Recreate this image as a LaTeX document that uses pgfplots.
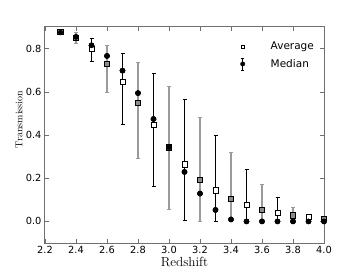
\documentclass[border=0pt]{standalone}
\usepackage{fontspec}
\setsansfont{DejaVu Sans}
\usepackage{pgfplots}
\pgfplotsset{compat=1.18}
\definecolor{axgray}{HTML}{707070}
\definecolor{bargray}{HTML}{9A9A9A}
\definecolor{sqgray}{HTML}{8C8C8C}
\begin{document}
\begin{tikzpicture}
\begin{axis}[
  scale only axis, width=279pt, height=216pt,
  xmin=2.2, xmax=4.0, ymin=-0.1, ymax=0.9,
  xtick={2.2,2.4,...,4.01}, ytick={0,0.2,0.4,0.6,0.8},
  axis line style={axgray, line width=1pt},
  tick style={axgray, line width=0.6pt}, tick align=inside,
  major tick length=4pt,
  xticklabel style={/pgf/number format/.cd, fixed, fixed zerofill, precision=1},
  yticklabel style={/pgf/number format/.cd, fixed, fixed zerofill, precision=1},
  /pgf/number format/assume math mode=true,
  tick label style={font=\sffamily\fontsize{9.8}{11}\selectfont, black},
  xlabel={Redshift}, ylabel={Transmission},
  xlabel style={font=\fontsize{13.2}{15}\selectfont, at={(axis description cs:0.5,-0.088)}, anchor=center},
  ylabel style={font=\fontsize{10}{12}\selectfont, at={(axis description cs:-0.093,0.572)}, anchor=center},
  clip=true,
  legend style={draw=none, fill=none, at={(0.975,0.945)}, anchor=north east,
    font=\sffamily\fontsize{10.5}{12}\selectfont, row sep=4pt, inner sep=1pt},
  legend cell align=left,
]
% legend images
\addlegendimage{legend image code/.code={
  \path[draw=none] (-6pt,0) -- (26pt,0);
  \draw[black, fill=white, line width=0.9pt] (-1.6pt,-1.6pt) rectangle (1.6pt,1.6pt);}}
\addlegendentry{Average}
\addlegendimage{legend image code/.code={
  \path[draw=none] (-6pt,0) -- (26pt,0);
  \draw[black, line width=0.6pt] (0pt,-6pt) -- (0pt,6pt);
  \draw[black, line width=0.6pt] (-1.5pt,-6pt) -- (1.5pt,-6pt);
  \draw[black, line width=0.6pt] (-1.5pt,6pt) -- (1.5pt,6pt);
  \fill[black] (0pt,0pt) circle (2.2pt);}}
\addlegendentry{Median}
% median with error bars, gray bars (even tenths)
\addplot[only marks, mark=*, mark size=2.6pt, black, forget plot,
  error bars/.cd, y dir=both, y explicit,
  error bar style={bargray, line width=1.4pt},
  error mark options={bargray, rotate=90, mark size=2pt, line width=0.8pt}]
  coordinates {
  (2.4,0.854) -= (0,0.032) += (0,0.019)
  (2.6,0.766) -= (0,0.168) += (0,0.049)
  (2.8,0.594) -= (0,0.302) += (0,0.144)
  (3.0,0.343) -= (0,0.289) += (0,0.283)
  (3.2,0.129) -= (0,0.129) += (0,0.351)
  (3.4,0.009) -= (0,0.009) += (0,0.309)
  (3.6,0.000) -= (0,0.000) += (0,0.171)
  (3.8,0.000) -= (0,0.000) += (0,0.067)
  (4.0,0.000) -= (0,0.000) += (0,0.010)
  };
% median with error bars, black bars (odd tenths)
\addplot[only marks, mark=*, mark size=2.6pt, black, forget plot,
  error bars/.cd, y dir=both, y explicit,
  error bar style={black, line width=0.8pt},
  error mark options={black, rotate=90, mark size=2pt, line width=0.8pt}]
  coordinates {
  (2.3,0.875) -= (0,0.008) += (0,0.008)
  (2.5,0.815) -= (0,0.074) += (0,0.030)
  (2.7,0.698) -= (0,0.251) += (0,0.082)
  (2.9,0.474) -= (0,0.310) += (0,0.213)
  (3.1,0.229) -= (0,0.224) += (0,0.334)
  (3.3,0.053) -= (0,0.053) += (0,0.347)
  (3.5,0.000) -= (0,0.000) += (0,0.240)
  (3.7,0.000) -= (0,0.000) += (0,0.113)
  (3.9,0.000) -= (0,0.000) += (0,0.028)
  };
% average squares, gray fill
\addplot[only marks, mark=square*, mark size=2.6pt, forget plot,
  mark options={fill=sqgray, draw=black, line width=0.8pt}]
  coordinates {(2.4,0.850) (2.6,0.730) (2.8,0.547) (3.0,0.343) (3.2,0.194)
  (3.4,0.104) (3.6,0.053) (3.8,0.028) (4.0,0.013)};
% average squares, white fill
\addplot[only marks, mark=square*, mark size=2.6pt, forget plot,
  mark options={fill=white, draw=black, line width=0.8pt}]
  coordinates {(2.3,0.878) (2.5,0.800) (2.7,0.647) (2.9,0.445) (3.1,0.264)
  (3.3,0.144) (3.5,0.076) (3.7,0.039) (3.9,0.020)};
% median circles on top
\addplot[only marks, mark=*, mark size=2.6pt, black, forget plot]
  coordinates {(2.3,0.875) (2.4,0.854) (2.5,0.815) (2.6,0.766) (2.7,0.698)
  (2.8,0.594) (2.9,0.474) (3.0,0.343) (3.1,0.229) (3.2,0.129) (3.3,0.053)
  (3.4,0.009) (3.5,0) (3.6,0) (3.7,0) (3.8,0) (3.9,0) (4.0,0)};
\end{axis}
\path ([shift={(-45pt,-27pt)}]current axis.south west) rectangle ([shift={(36pt,27pt)}]current axis.north east);
\end{tikzpicture}
\end{document}
